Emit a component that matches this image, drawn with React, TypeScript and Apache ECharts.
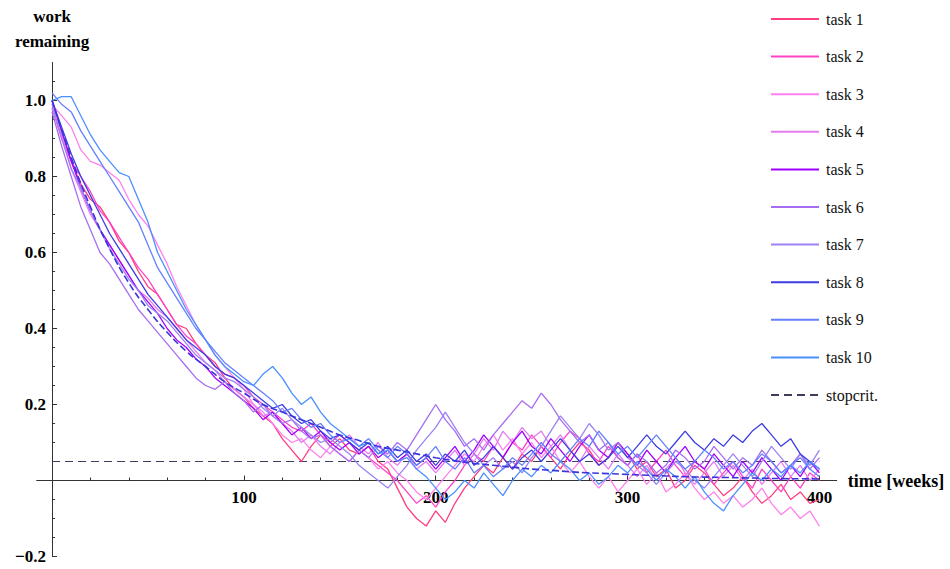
import React, { useEffect, useRef } from "react";
import * as echarts from "echarts";

// Sampling step (weeks) of the task traces and of the expected curve.
const TASK_STEP = 5;
const EXPECTED_STEP = 10;
const STOP_CRIT = 0.05;
const WEEK_RANGE = [0, 400];

const TASK_NAMES = ["task 1", "task 2", "task 3", "task 4", "task 5", "task 6", "task 7", "task 8", "task 9", "task 10"];
const TASK_COLORS = ["#ff3d7f", "#ff42c6", "#ff80ee", "#e57cf2", "#a000ff", "#a56ef2", "#9c82f2", "#3c3ce2", "#6480ff", "#4a90ff"];

const TASK_1 = [1.0, .92, .84, .78, .74, .72, .68, .63, .60, .55, .51, .49, .45, .41, .40, .36, .33, .31, .27, .24, .22,
  .19, .17, .15, .11, .08, .05, .09, .12, .09, .11,
  .08, .07, .09, .05, .03, -.02, -.07, -.10, -.12, -.08,
  -.11, -.06, -.02, .01, .04, .02, .06, .03, .07, .05,
  .09, .06, .03, .07, .10, .08, .04, .06, .10, .07,
  .03, .05, .01, .03, -.02, .00, .04, .02, -.01, -.04,
  -.02, .01, -.03, -.06, -.04, -.01, -.05, -.03, -.06, -.05];
const TASK_2 = [.98, .90, .84, .80, .76, .71, .68, .64, .60, .56, .53, .49, .45, .41, .38, .36, .33, .30, .28, .27, .25,
  .22, .20, .18, .16, .14, .13, .15, .12, .10, .12,
  .10, .08, .06, .04, .02, .00, -.03, -.06, -.04, -.07,
  -.03, .00, .04, .07, .05, .09, .06, .10, .08, .12,
  .09, .06, .10, .13, .11, .07, .05, .09, .06, .04,
  .07, .02, .05, .08, .04, .01, .05, .03, -.01, .02,
  .05, .01, -.02, .03, .00, -.03, .01, -.02, .02, .00];
const TASK_3 = [.99, .96, .93, .87, .84, .83, .81, .79, .74, .70, .67, .62, .57, .51, .46, .41, .37, .33, .30, .27, .24,
  .20, .18, .15, .12, .10, .11, .08, .06, .09, .07,
  .05, .08, .06, .03, .05, .02, .00, -.03, -.05, -.02,
  .01, .04, .07, .05, .09, .12, .08, .11, .07, .10,
  .06, .09, .05, .02, .05, .01, -.02, .01, -.03, .00,
  .03, -.01, .02, -.03, -.01, .02, -.02, -.05, -.03, -.06,
  -.04, -.07, -.05, -.02, -.06, -.09, -.07, -.10, -.08, -.12];
const TASK_4 = [.98, .91, .82, .76, .70, .66, .62, .58, .54, .50, .48, .45, .43, .40, .37, .34, .31, .29, .26, .24, .22,
  .20, .17, .18, .15, .13, .10, .12, .09, .07, .10,
  .12, .09, .07, .10, .06, .04, .07, .03, .05, .02,
  .05, .08, .04, .07, .11, .08, .13, .10, .14, .11,
  .13, .09, .12, .08, .05, .09, .06, .03, .07, .04,
  .01, .04, .00, .03, .06, .02, -.01, .02, .05, .01,
  .04, .00, .03, -.01, .02, .05, .01, .04, .00, .03];
const TASK_5 = [1.0, .92, .84, .77, .71, .66, .62, .58, .54, .50, .47, .44, .40, .37, .35, .32, .30, .27, .25, .23, .21,
  .19, .16, .18, .15, .12, .14, .11, .13, .10, .08,
  .10, .07, .09, .06, .08, .05, .07, .04, .06, .03,
  .06, .09, .05, .08, .12, .09, .06, .10, .13, .09,
  .07, .11, .08, .05, .09, .12, .08, .06, .10, .07,
  .04, .08, .05, .02, .06, .09, .05, .03, .07, .04,
  .01, .05, .02, .06, .03, .00, .04, .01, .05, .02];
const TASK_6 = [.97, .88, .80, .72, .66, .60, .57, .53, .49, .45, .42, .39, .36, .33, .30, .27, .25, .24, .26, .23, .21,
  .18, .20, .17, .15, .16, .13, .11, .12, .09, .07,
  .05, .08, .06, .09, .07, .10, .08, .12, .16, .20,
  .16, .13, .09, .11, .08, .12, .15, .18, .21, .19,
  .23, .20, .16, .13, .10, .12, .08, .10, .06, .04,
  .07, .05, .02, .04, .08, .06, .03, .05, .09, .06,
  .03, .06, .04, .08, .05, .02, .04, .07, .03, .06];
const TASK_7 = [.99, .90, .82, .77, .71, .66, .61, .57, .53, .50, .46, .44, .42, .39, .36, .33, .31, .29, .27, .26, .24,
  .22, .19, .17, .19, .16, .14, .12, .10, .11, .09,
  .07, .04, .02, .00, -.02, .01, .04, .08, .11, .14,
  .18, .14, .10, .07, .04, .06, .03, .05, .02, .06,
  .09, .13, .17, .14, .11, .15, .12, .08, .10, .06,
  .04, .02, -.01, .02, .05, .03, .00, -.02, .01, .04,
  .07, .04, .01, .05, .09, .06, .03, .07, .04, .08];
const TASK_8 = [1.0, .93, .86, .80, .75, .70, .65, .61, .57, .53, .49, .46, .43, .40, .37, .35, .33, .30, .28, .27, .25,
  .23, .21, .19, .20, .17, .15, .16, .13, .11, .12,
  .10, .08, .10, .07, .09, .06, .08, .05, .07, .04,
  .07, .05, .08, .04, .06, .09, .06, .03, .06, .08,
  .05, .08, .11, .08, .05, .07, .04, .06, .09, .06,
  .09, .12, .09, .07, .10, .13, .10, .08, .11, .09,
  .12, .10, .13, .15, .12, .09, .11, .07, .05, .03];
const TASK_9 = [1.02, .99, .97, .92, .88, .84, .80, .76, .72, .68, .62, .56, .52, .48, .44, .40, .37, .34, .31, .29, .27,
  .25, .23, .21, .18, .19, .16, .14, .15, .12, .10,
  .11, .09, .11, .08, .06, .09, .07, .04, .06, .09,
  .05, .03, .06, .02, .04, .01, .03, .06, .04, .07,
  .10, .07, .05, .08, .11, .09, .13, .10, .07, .09,
  .06, .09, .12, .09, .06, .03, .05, .08, .06, .03,
  .05, .02, .04, .07, .05, .02, .04, .06, .03, .01];
const TASK_10 = [1.0, 1.01, 1.01, .96, .91, .87, .84, .81, .80, .74, .68, .60, .55, .50, .45, .41, .37, .33, .30, .28, .26,
  .25, .28, .30, .27, .23, .20, .22, .18, .15, .13,
  .11, .09, .10, .07, .08, .05, .06, .03, .01, -.02,
  -.05, -.03, .00, -.02, .02, -.01, -.04, .00, .03, .01,
  .04, .02, .05, .03, .00, .02, -.01, .01, .04, .02,
  .05, .03, .00, .03, .01, -.02, .01, -.03, -.06, -.08,
  -.04, -.01, .02, .00, .03, .01, .04, .02, .05, .03];

const TASKS = [TASK_1, TASK_2, TASK_3, TASK_4, TASK_5, TASK_6, TASK_7, TASK_8, TASK_9, TASK_10];

// Expected remaining work (mean decay), every 10 weeks.
const EXPECTED = [1.0, .85, .72, .61, .52, .45, .39, .34, .30, .26, .23,
  .20, .18, .16, .14, .12, .105, .09, .08, .07, .06,
  .052, .045, .04, .035, .03, .027, .023, .02, .018, .016,
  .014, .012, .01, .009, .008, .007, .006, .005, .0045, .004];

const X_LABELS = [100, 200, 300, 400];
const X_MINOR = [20, 40, 60, 80, 120, 140, 160, 180, 220, 240, 260, 280, 320, 340, 360, 380];
const Y_LABELS = [-0.2, 0.2, 0.4, 0.6, 0.8, 1.0];
const Y_MAJOR = [-0.2, 0.2, 0.4, 0.6, 0.8, 1.0];
const Y_MINOR = [-0.15, -0.1, -0.05, 0.05, 0.1, 0.15, 0.25, 0.3, 0.35, 0.45, 0.5, 0.55, 0.65, 0.7, 0.75, 0.85, 0.9, 0.95, 1.05];

const X_MIN = -8;
const X_MAX = 409;
const Y_MIN = -0.2;
const Y_MAX = 1.1;

const SERIF = '"Liberation Serif", "Times New Roman", serif';
const AXIS_COLOR = "#333";

// Plot area in pixels
const GRID = { left: 36.7, top: 62.5, width: 800, height: 494 };
// Axes cross at the origin: shift them inward from the grid edges.
const X_AXIS_OFFSET = -GRID.height * (0 - Y_MIN) / (Y_MAX - Y_MIN);
const Y_AXIS_OFFSET = -GRID.width * (0 - X_MIN) / (X_MAX - X_MIN);

export default function App() {
  const ref = useRef<HTMLDivElement>(null);

  useEffect(() => {
    if (!ref.current) return;
    const chart = echarts.init(ref.current, null, { renderer: "svg" });

    const taskSeries = TASKS.map((vals, k) => ({
      name: TASK_NAMES[k],
      type: "line",
      xAxisIndex: 0,
      yAxisIndex: 0,
      symbol: "none",
      color: TASK_COLORS[k],
      lineStyle: { width: 1.3, color: TASK_COLORS[k] },
      data: vals.map((v, i) => [i * TASK_STEP, v]),
      z: 2 + k,
    }));

    const tickLabel = {
      fontFamily: SERIF,
      fontWeight: "bold",
      fontSize: 17,
      color: "#000",
    };

    chart.setOption({
      animation: false,
      backgroundColor: "#fff",
      grid: { ...GRID, containLabel: false, outerBoundsMode: "none" },
      legend: {
        orient: "vertical",
        left: 770,
        top: 9,
        padding: 0,
        itemWidth: 48,
        itemHeight: 20,
        itemGap: 17.6,
        data: [...TASK_NAMES, "stopcrit."],
        itemStyle: { opacity: 0 },
        textStyle: { fontFamily: SERIF, fontSize: 16, color: "#111", lineHeight: 20, padding: [0, 0, 0, 2] },
        lineStyle: { width: 2 },
      },
      xAxis: [
        {
          type: "value",
          min: X_MIN,
          max: X_MAX,
          position: "bottom",
          offset: X_AXIS_OFFSET,
          name: "time [weeks]",
          nameLocation: "end",
          nameGap: 11,
          nameTextStyle: { fontFamily: SERIF, fontWeight: "bold", fontSize: 18, color: "#000" },
          axisLine: { onZero: false, lineStyle: { color: AXIS_COLOR, width: 1 } },
          axisTick: { inside: true, length: 5, customValues: X_LABELS, lineStyle: { color: AXIS_COLOR } },
          axisLabel: { ...tickLabel, margin: 8, customValues: X_LABELS },
          splitLine: { show: false },
        },
        {
          type: "value",
          min: X_MIN,
          max: X_MAX,
          position: "bottom",
          offset: X_AXIS_OFFSET,
          axisLine: { show: false, onZero: false },
          axisTick: { inside: true, length: 3, customValues: X_MINOR, lineStyle: { color: AXIS_COLOR } },
          axisLabel: { show: false },
          splitLine: { show: false },
        },
      ],
      yAxis: [
        {
          type: "value",
          min: Y_MIN,
          max: Y_MAX,
          position: "left",
          offset: Y_AXIS_OFFSET,
          name: "work\nremaining",
          nameLocation: "end",
          nameGap: 9,
          nameTextStyle: {
            fontFamily: SERIF,
            fontWeight: "bold",
            fontSize: 17,
            color: "#000",
            lineHeight: 25,
            align: "center",
          },
          axisLine: { onZero: false, lineStyle: { color: AXIS_COLOR, width: 1 } },
          axisTick: { inside: true, length: 5, customValues: Y_MAJOR, lineStyle: { color: AXIS_COLOR } },
          axisLabel: {
            ...tickLabel,
            margin: 6,
            customValues: Y_LABELS,
            formatter: (v: number) => (v < 0 ? "\u2212" + Math.abs(v).toFixed(1) : v.toFixed(1)),
          },
          splitLine: { show: false },
        },
        {
          type: "value",
          min: Y_MIN,
          max: Y_MAX,
          position: "left",
          offset: Y_AXIS_OFFSET,
          axisLine: { show: false, onZero: false },
          axisTick: { inside: true, length: 3, customValues: Y_MINOR, lineStyle: { color: AXIS_COLOR } },
          axisLabel: { show: false },
          splitLine: { show: false },
        },
      ],
      series: [
        ...taskSeries,
        {
          name: "stopcrit.",
          type: "line",
          symbol: "none",
          color: "#3c3c5c",
          lineStyle: { width: 1, color: "#3c3c5c", type: [8, 5] },
          data: WEEK_RANGE.map((w) => [w, STOP_CRIT]),
          z: 1,
        },
        {
          name: "expected",
          type: "line",
          symbol: "none",
          smooth: true,
          color: "#3a34dc",
          lineStyle: { width: 1.6, color: "#3a34dc", type: [7, 3] },
          data: EXPECTED.map((v, i) => [i * EXPECTED_STEP, v]),
          z: 20,
        },
      ],
    });

    return () => chart.dispose();
  }, []);

  return (
    <div
      ref={ref}
      style={{ position: "fixed", left: 0, top: 0, width: 950, height: 569, background: "#fff" }}
    />
  );
}
